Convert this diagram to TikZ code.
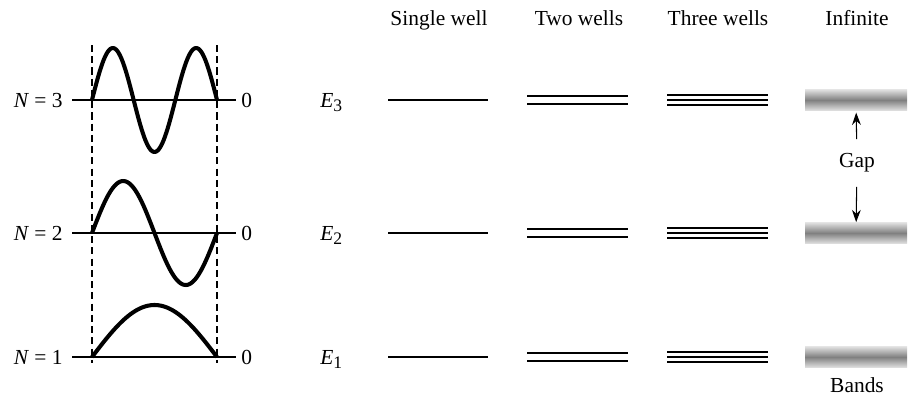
\documentclass[tikz,border=0pt]{standalone}
\usepackage{fontspec}
\setmainfont{Liberation Serif}
\usetikzlibrary{arrows.meta,positioning}
\newcommand{\nivelE}[1]{\textit{E}\raisebox{-0.45ex}{\fontsize{10}{12}\selectfont #1}}

\begin{document}
\begin{tikzpicture}[x=0.02cm, y=-0.02cm,
  txt/.style={font=\fontsize{12.2}{14}\selectfont, inner sep=0pt},
  eje/.style={line width=0.6pt},
  guia/.style={line width=0.6pt, dash pattern=on 4pt off 2.4pt},
  onda/.style={line width=2.3pt, line join=round},
  nivel/.style={line width=1.4pt},
  banda/.style={minimum width=2.04cm, minimum height=0.42cm, inner sep=0pt,
               top color=black!12, bottom color=black!12, middle color=black!50},
  flecha/.style={-{Stealth[length=7pt,width=5pt]}, line width=0.6pt}]
\useasboundingbox (0,0) rectangle (908,403);
% column headers
\node[txt, anchor=base] (cabSimple) at (439,25) {Single well};
\node[txt, anchor=base] (cabDos)    at (579,25) {Two wells};
\node[txt, anchor=base] (cabTres)   at (718,25) {Three wells};
\node[txt, anchor=base] (cabInf)    at (857,25) {Infinite};
% wave functions
\draw[guia] (92,45) -- (92,363);
\draw[guia] (217,45) -- (217,363);
\foreach \k/\yy in {1/357, 2/233, 3/100} {
  \draw[eje] (72,\yy) -- (236,\yy);
  \node[txt, anchor=base east] (n\k) at (63,\yy+7) {\textit{N} = \k};
  \node[txt, anchor=base west] (cero\k) at (241,\yy+7) {0};
  \draw[onda] plot[domain=0:125, samples=90] ({92+\x}, {\yy-52*sin(\k*1.44*\x)});
}
% energy levels
\foreach \k/\yy in {1/357, 2/233, 3/100} {
  \node[txt, anchor=base west] (e\k) at (320,\yy+7) {\nivelE{\k}};
  \draw[nivel] (388,\yy) -- (488,\yy);
  \foreach \d in {-4,4}
    \draw[nivel] (527,\yy+\d) -- (628,\yy+\d);
  \foreach \d in {-5,0,5}
    \draw[nivel] (667,\yy+\d) -- (768,\yy+\d);
  \node[banda] (b\k) at (856,\yy) {};
}
\node[txt, minimum height=0.94cm] (gap) at (857,163) {Gap};
\draw[flecha, shorten >=1pt] (gap) -- (b3);
\draw[flecha] (gap) -- (b2);
\node[txt, anchor=base] (bandas) at (857,392) {Bands};
\end{tikzpicture}
\end{document}
